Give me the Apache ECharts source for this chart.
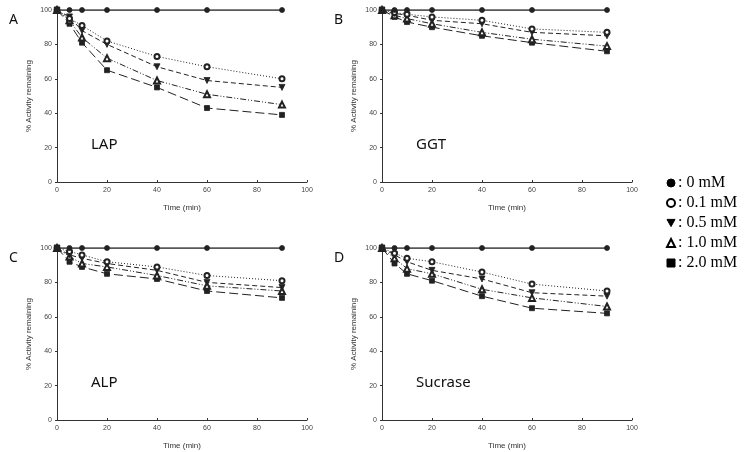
<!DOCTYPE html>
<html>
<head>
<meta charset="utf-8">
<script src="https://cdn.jsdelivr.net/npm/echarts@6/dist/echarts.min.js"></script>
<style>
	html, body { margin: 0; padding: 0; background: #fff; }
	#main { width: 745px; height: 452px; }
</style>
</head>
<body>
<div id="main"></div>
<script>
	// time points (min)
	var times = [0, 5, 10, 20, 40, 60, 90];
	var xTicks = [0, 20, 40, 60, 80, 100];
	var yTicks = [0, 20, 40, 60, 80, 100];

	var concs = ['0 mM', '0.1 mM', '0.5 mM', '1.0 mM', '2.0 mM'];
	var panels = ['A', 'B', 'C', 'D'];
	var enzymes = ['LAP', 'GGT', 'ALP', 'Sucrase'];

	// % activity remaining, one array per enzyme and concentration
	var lap00 = [100, 100, 100, 100, 100, 100, 100];
	var lap01 = [100, 95, 91, 82, 73, 67, 60];
	var lap05 = [100, 96, 88, 80, 67, 59, 55];
	var lap10 = [100, 94, 84, 72, 59, 51, 45];
	var lap20 = [100, 92, 81, 65, 55, 43, 39];

	var ggt00 = [100, 100, 100, 100, 100, 100, 100];
	var ggt01 = [100, 98.5, 97.5, 96, 94, 89, 87];
	var ggt05 = [100, 98, 97, 94, 92, 87, 85];
	var ggt10 = [100, 97, 95, 92, 87, 83, 79];
	var ggt20 = [100, 96, 93, 90, 85, 81, 76];

	var alp00 = [100, 100, 100, 100, 100, 100, 100];
	var alp01 = [100, 98, 96, 92, 89, 84, 81];
	var alp05 = [100, 96, 94, 91, 87, 80, 77];
	var alp10 = [100, 95, 91, 89, 84, 78, 75];
	var alp20 = [100, 92, 89, 85, 82, 75, 71];

	var suc00 = [100, 100, 100, 100, 100, 100, 100];
	var suc01 = [100, 97, 94, 92, 86, 79, 75];
	var suc05 = [100, 96, 92, 87, 82, 74, 72];
	var suc10 = [100, 94, 88, 85, 76, 71, 66];
	var suc20 = [100, 91, 85, 81, 72, 65, 62];

	var panelData = [
		[lap00, lap01, lap05, lap10, lap20],
		[ggt00, ggt01, ggt05, ggt10, ggt20],
		[alp00, alp01, alp05, alp10, alp20],
		[suc00, suc01, suc05, suc10, suc20]
	];

	var downTri = 'path://M0,0 L10,0 L5,9 Z';
	var symbols = ['circle', 'emptyCircle', downTri, 'emptyTriangle', 'rect'];
	var symSizes = [5, 5, 6, 6, 5];
	var dashes = ['solid', [1, 2], [5, 3], [6, 2, 1, 2, 1, 2], [9, 4]];
	var lineColor = '#222';

	var gridPos = [
		{ left: 57, top: 10 },
		{ left: 382, top: 10 },
		{ left: 57, top: 248 },
		{ left: 382, top: 248 }
	];

	var grids = [], xAxes = [], yAxes = [], series = [], titles = [];

	for (var p = 0; p < 4; p++) {
		grids.push({ left: gridPos[p].left, top: gridPos[p].top, width: 250, height: 172 });
		xAxes.push({
			gridIndex: p,
			type: 'value',
			min: xTicks[0],
			max: xTicks[xTicks.length - 1],
			interval: 20,
			name: 'Time (min)',
			nameLocation: 'middle',
			nameGap: 22,
			nameTextStyle: { color: '#333', fontSize: 8, fontFamily: 'Liberation Sans' },
			axisLine: { lineStyle: { color: '#333', width: 1 } },
			axisTick: { inside: true, length: 2, lineStyle: { color: '#333' } },
			axisLabel: { color: '#444', fontSize: 7, margin: 5, fontFamily: 'Liberation Sans' },
			splitLine: { show: false }
		});
		yAxes.push({
			gridIndex: p,
			type: 'value',
			min: yTicks[0],
			max: yTicks[yTicks.length - 1],
			interval: 20,
			name: '% Activity remaining',
			nameLocation: 'middle',
			nameGap: 24,
			nameTextStyle: { color: '#333', fontSize: 8, fontFamily: 'Liberation Sans' },
			axisLine: { show: true, lineStyle: { color: '#333', width: 1 } },
			axisTick: { show: true, inside: false, length: 2, lineStyle: { color: '#333' } },
			axisLabel: { color: '#444', fontSize: 7, margin: 5, fontFamily: 'Liberation Sans' },
			splitLine: { show: false }
		});

		for (var c = 0; c < 5; c++) {
			var vals = panelData[p][c];
			var pts = [];
			for (var i = 0; i < times.length; i++) {
				pts.push([times[i], vals[i]]);
			}
			series.push({
				name: concs[c],
				type: 'line',
				xAxisIndex: p,
				yAxisIndex: p,
				data: pts,
				symbol: symbols[c],
				symbolSize: symSizes[c],
				showAllSymbol: true,
				z: 10 - c,
				itemStyle: { color: lineColor, borderColor: lineColor, borderWidth: 0.8 },
				lineStyle: { color: lineColor, width: c === 0 ? 1.3 : 1, type: dashes[c] },
				emphasis: { disabled: true },
				animation: false
			});
		}

		titles.push({
			text: panels[p],
			left: gridPos[p].left - 53,
			top: gridPos[p].top - 2,
			textStyle: { fontSize: 14, fontWeight: 'normal', color: '#111', fontFamily: 'Noto Sans' }
		});
		titles.push({
			text: enzymes[p],
			left: gridPos[p].left + 29,
			top: gridPos[p].top + 122,
			textStyle: { fontSize: 15, fontWeight: 'normal', color: '#111', fontFamily: 'Noto Sans' }
		});
	}

	var myChart = echarts.init(document.getElementById('main'));
	myChart.setOption({
		animation: false,
		backgroundColor: '#fff',
		title: titles,
		grid: grids,
		xAxis: xAxes,
		yAxis: yAxes,
		legend: {
			orient: 'vertical',
			left: 661,
			top: 170,
			itemGap: 4,
			itemWidth: 8,
			itemHeight: 8,
			selectedMode: false,
			data: concs.map(function(n, i) {
				return { name: n, icon: symbols[i], itemStyle: { color: '#000', borderColor: '#000', borderWidth: 1 } };
			}),
			formatter: function(name) {
				return ': ' + name;
			},
			textStyle: { fontSize: 16, color: '#000', fontFamily: 'Liberation Serif', padding: [0, 0, 0, -2] }
		},
		series: series
	});
</script>
</body>
</html>
